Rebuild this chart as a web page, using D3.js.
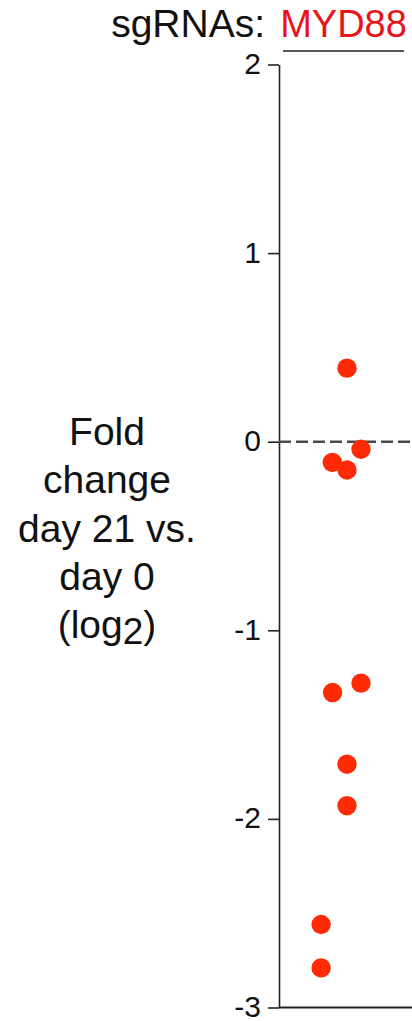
<!DOCTYPE html>
<html>
<head>
<meta charset="utf-8">
<script src="https://cdn.jsdelivr.net/npm/d3@7"></script>
<style>
	html,body { margin:0; padding:0; background:#fff; }
	svg { display:block; }
	text { font-family:'Liberation Sans', Arial, Helvetica, sans-serif; }
</style>
</head>
<body>
<svg id="chart" width="412" height="1021"></svg>
<script>

//------------------------------------------------------------------
// data
//------------------------------------------------------------------
var categories	= ['MYD88'];
var yTicks			= [2, 1, 0, -1, -2, -3];
var foldChange	= [0.39, -0.04, -0.11, -0.15, -1.28, -1.33, -1.71, -1.93, -2.56, -2.79];
var jitter			= [0.25, 1.25, -0.8, 0.25, 1.25, -0.78, 0.25, 0.25, -1.6, -1.6];
var yLabelLines	= ['Fold', 'change', 'day 21 vs.', 'day 0'];


//------------------------------------------------------------------
//
//------------------------------------------------------------------
function drawChart()	{

	var W		= 412,
			ax	= 279,
			red	= '#e8141b',
			dot	= '#ff2b06',
			ink	= '#222';

	var y = d3.scaleLinear().domain([-3, 2]).range([1007.5, 64.5]);
	var x = d3.scaleBand().domain(categories).range([ax, 408]);
	var xj = d3.scaleLinear().domain([-1, 1]).range([-14, 14]);

	var svg = d3.select('#chart');

	// y axis (plain hyphen for negatives, as in the figure)
	var yAxis = d3.axisLeft(y).tickValues(yTicks).tickFormat(d=>String(d)).tickSize(11).tickPadding(7).tickSizeOuter(0);

	svg.append('g')
		.attr('transform', 'translate(' + ax + ',0)')
		.call(yAxis)
		.call(sel=>{
			sel.select('.domain').attr('stroke', ink).attr('stroke-width', 1.6);
			sel.selectAll('.tick line').attr('stroke', ink).attr('stroke-width', 1.6);
			sel.selectAll('.tick text')
				.attr('fill', '#111')
				.attr('dy', '0.3em')
				.style('font-size', '30px')
				.style('font-family', "'Liberation Sans', Arial, sans-serif");
		});

	// bottom baseline
	svg.append('line')
		.attr('x1', ax).attr('x2', W)
		.attr('y1', y(-3)).attr('y2', y(-3))
		.attr('stroke', ink).attr('stroke-width', 1.8);

	// zero reference
	svg.append('line')
		.attr('x1', ax).attr('x2', W)
		.attr('y1', y(0)).attr('y2', y(0))
		.attr('stroke', '#4a4a4a').attr('stroke-width', 2.4)
		.attr('stroke-dasharray', '12,5');

	// header
	svg.append('text')
		.attr('x', 265).attr('y', 37)
		.attr('text-anchor', 'end')
		.attr('fill', '#111')
		.style('font-size', '39px')
		.text('sgRNAs:');

	svg.selectAll('.cat').data(categories)
		.enter()
			.append('g')
				.attr('class', 'cat')
				.call(sel=>{
					sel.append('text')
						.attr('x', d=>x(d) + x.bandwidth()/2)
						.attr('y', 37)
						.attr('text-anchor', 'middle')
						.attr('fill', red)
						.style('font-size', '38px')
						.text(d=>d);
					sel.append('line')
						.attr('x1', d=>x(d) + 4)
						.attr('x2', d=>x(d) + x.bandwidth() - 4)
						.attr('y1', 51).attr('y2', 51)
						.attr('stroke', ink).attr('stroke-width', 1.6);
				});

	// points
	var pts = foldChange.map((v,i)=>({ cat:categories[0], v:v, j:jitter[i] }));

	svg.append('g').selectAll('circle').data(pts)
		.enter()
			.append('circle')
				.attr('cx', d=>x(d.cat) + x.bandwidth()/2 + xj(d.j))
				.attr('cy', d=>y(d.v))
				.attr('r', 9.7)
				.attr('fill', dot);

	// y label
	var lab = svg.append('text')
		.attr('text-anchor', 'middle')
		.attr('fill', '#111')
		.style('font-size', '39px');

	yLabelLines.forEach((t,i)=>{
		lab.append('tspan')
			.attr('x', 107)
			.attr('y', 445 + i*48.3)
			.text(t);
	});

	var last = lab.append('tspan').attr('x', 107).attr('y', 445 + 4*48.3);
	last.append('tspan').text('(log');
	last.append('tspan').attr('dy', 6).style('font-size', '37px').text('2');
	last.append('tspan').attr('dy', -6).text(')');

}

drawChart();

</script>
</body>
</html>
